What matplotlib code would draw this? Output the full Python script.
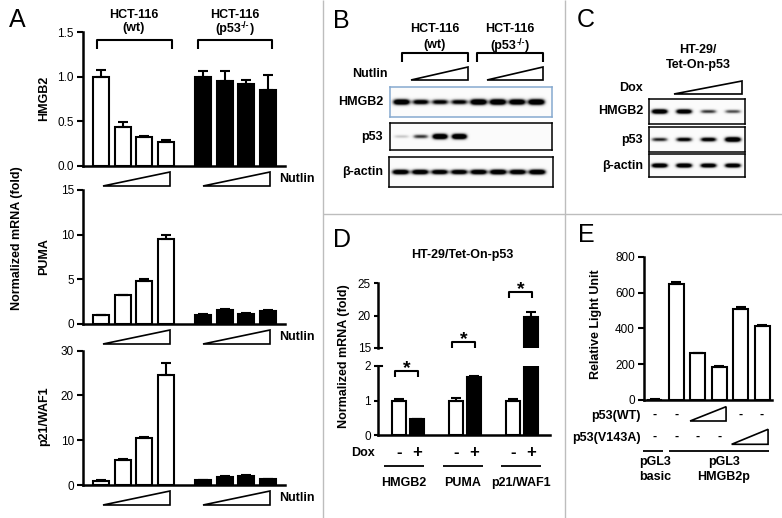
import numpy as np
import matplotlib
matplotlib.use("Agg")
import matplotlib.pyplot as plt
import matplotlib.transforms as mtransforms
from matplotlib.lines import Line2D
from matplotlib.patches import Polygon

plt.rcParams['font.family'] = ['Liberation Sans', 'DejaVu Sans']

# ---------------- data ----------------
# Panel A: qPCR, HCT-116 wt (white) vs p53-/- (black), increasing Nutlin
a_hmgb2_wt = [1.00, 0.44, 0.33, 0.27]
a_hmgb2_wt_err = [0.07, 0.05, 0.01, 0.025]
a_hmgb2_ko = [1.00, 0.95, 0.92, 0.85]
a_hmgb2_ko_err = [0.06, 0.11, 0.04, 0.17]
a_puma_wt = [1.0, 3.2, 4.85, 9.5]
a_puma_wt_err = [0.05, 0.1, 0.2, 0.5]
a_puma_ko = [1.05, 1.55, 1.15, 1.45]
a_puma_ko_err = [0.1, 0.15, 0.08, 0.15]
a_p21_wt = [1.0, 5.5, 10.5, 24.5]
a_p21_wt_err = [0.1, 0.35, 0.3, 2.7]
a_p21_ko = [1.1, 1.8, 2.0, 1.3]
a_p21_ko_err = [0.1, 0.12, 0.15, 0.1]

# Panel B: western blot band intensities (8 lanes)
b_hmgb2 = [1.0, 0.8, 0.75, 0.75, 1.05, 1.05, 1.0, 1.05]
b_p53 = [0.2, 0.55, 1.1, 1.1, 0.0, 0.0, 0.0, 0.0]
b_actin = [0.95, 0.95, 0.9, 0.9, 0.95, 1.0, 0.95, 1.0]

# Panel C: western blot band intensities (4 lanes)
c_hmgb2 = [1.0, 0.95, 0.55, 0.5]
c_p53 = [0.6, 0.75, 0.8, 1.05]
c_actin = [1.0, 1.0, 0.95, 0.95]

# Panel D: HT-29/Tet-On-p53 qPCR, -Dox (white) / +Dox (black)
d_genes = ['HMGB2', 'PUMA', 'p21/WAF1']
d_minus = [1.0, 1.0, 1.0]
d_minus_err = [0.05, 0.08, 0.06]
d_plus = [0.47, 1.68, 19.7]
d_plus_err = [0.0, 0.04, 0.9]

# Panel E: luciferase reporter
e_values = [2, 648, 261, 183, 508, 412]
e_err = [1, 13, 3, 6, 10, 5]
e_wt_row = ['-', '-', None, None, '-', '-']
e_mut_row = ['-', '-', '-', '-', None, None]

# ---------------- figure helpers ----------------
W, H = 782, 518
fig = plt.figure(figsize=(W / 100, H / 100), dpi=100)
PIX = mtransforms.Affine2D().scale(1 / W, -1 / H).translate(0, 1) + fig.transFigure
renderer = fig.canvas.get_renderer()


def ax_px(l, t, r, b):
    return fig.add_axes([l / W, 1 - b / H, (r - l) / W, (b - t) / H])


def txt(x, y, s, size=9, weight='bold', ha='center', va='center', **kw):
    return fig.text(x, y, s, transform=PIX, fontsize=size, fontweight=weight,
                    ha=ha, va=va, **kw)


def sup_txt(cx, y, base, sup, tail, size=9, supsize=6.5, rise=4):
    t1 = txt(0, y, base, size=size, ha='left', va='baseline')
    t2 = txt(0, y - rise, sup, size=supsize, ha='left', va='baseline')
    t3 = txt(0, y, tail, size=size, ha='left', va='baseline')
    ws = [t.get_window_extent(renderer).width for t in (t1, t2, t3)]
    x0 = cx - sum(ws) / 2
    t1.set_x(x0)
    t2.set_x(x0 + ws[0])
    t3.set_x(x0 + ws[0] + ws[1])


def line(xs, ys, lw=1.4, color='black', trans=None):
    fig.add_artist(Line2D(xs, ys, transform=trans or PIX, lw=lw, color=color,
                          solid_capstyle='butt'))


def tri(xl, xr, ytop, ybot, trans=None, lw=1.2):
    fig.add_artist(Polygon([(xl, ybot), (xr, ybot), (xr, ytop)], closed=True,
                           fill=False, lw=lw, edgecolor='black',
                           transform=trans or PIX, joinstyle='miter'))


def style(ax, bottom=True, ticklen=4.5):
    ax.spines['top'].set_visible(False)
    ax.spines['right'].set_visible(False)
    ax.spines['left'].set_linewidth(1.8)
    ax.spines['bottom'].set_linewidth(1.8)
    if not bottom:
        ax.spines['bottom'].set_visible(False)
    ax.set_xticks([])
    ax.tick_params(axis='y', direction='out', length=ticklen, width=1.5,
                   labelsize=8.5, pad=2)
    ax.patch.set_alpha(0)


def bars(ax, x, vals, errs, color, width):
    ax.bar(x, vals, width=width, color=color, edgecolor='black', lw=1.5, zorder=2)
    ax.errorbar(x, vals, yerr=[np.zeros(len(vals)), errs], fmt='none',
                ecolor='black', elinewidth=1.5, capsize=3.5, capthick=1.5, zorder=3)


def blot(rect, vals, centers, bw, bh, edge='black'):
    ax = ax_px(*rect)
    hh, ww = 90, 320
    yy = np.linspace(0, 1, hh)[:, None]
    xx = np.linspace(0, 1, ww)[None, :]
    img = np.full((hh, ww), 0.03)
    for c, v in zip(centers, vals):
        if v <= 0:
            continue
        px = np.exp(-((xx - c) / (bw / 2)) ** 4)
        h = bh * (0.55 + 0.45 * v)
        py = np.exp(-((yy - 0.5) / h) ** 2)
        img += 1.5 * v * px * py
    ax.imshow(np.clip(img, 0, 1), cmap='Greys', vmin=0, vmax=1,
              extent=[0, 1, 0, 1], aspect='auto', interpolation='bilinear',
              origin='lower')
    ax.set_xticks([])
    ax.set_yticks([])
    for s in ax.spines.values():
        s.set_color(edge)
        s.set_linewidth(1.1)
    return ax


# ---------------- dividers ----------------
line([323, 323], [0, 518], lw=1, color='#bdbdbd')
line([565, 565], [0, 518], lw=1, color='#bdbdbd')
line([323, 782], [214, 214], lw=1, color='#bdbdbd')

# panel letters
for lab, x, y in [('A', 9, 27), ('B', 333, 28), ('C', 577, 27), ('D', 333, 247), ('E', 578, 242)]:
    txt(x, y, lab, size=18, weight='normal', ha='left', va='baseline')

# ---------------- Panel A ----------------
posW = np.array([0, 1, 2, 3])
posB = np.array([4.7, 5.7, 6.7, 7.7])
rowsA = [
    (32, 166, 1.5, [0, 0.5, 1.0, 1.5], ['0.0', '0.5', '1.0', '1.5'],
     a_hmgb2_wt, a_hmgb2_wt_err, a_hmgb2_ko, a_hmgb2_ko_err, 'HMGB2', 98),
    (190, 324, 15, [0, 5, 10, 15], ['0', '5', '10', '15'],
     a_puma_wt, a_puma_wt_err, a_puma_ko, a_puma_ko_err, 'PUMA', 257),
    (350.7, 485, 30, [0, 10, 20, 30], ['0', '10', '20', '30'],
     a_p21_wt, a_p21_wt_err, a_p21_ko, a_p21_ko_err, 'p21/WAF1', 416),
]
for top, bot, ymax, ticks, tlabels, wv, we, kv, ke, name, ly in rowsA:
    ax = ax_px(83, top, 285, bot)
    ax.set_xlim(-0.83, 8.49)
    ax.set_ylim(0, ymax)
    style(ax)
    ax.set_yticks(ticks)
    ax.set_yticklabels(tlabels)
    bars(ax, posW, wv, we, 'white', 0.74)
    bars(ax, posB, kv, ke, 'black', 0.74)
    tri(103, 170, bot + 6, bot + 20)
    tri(203, 270, bot + 6, bot + 20)
    txt(279, bot + 13, 'Nutlin', ha='left')
    txt(44, ly, name, rotation=90)

txt(17, 238, 'Normalized mRNA (fold)', rotation=90)
txt(134, 15, 'HCT-116')
txt(134, 28, '(wt)')
txt(234.5, 15, 'HCT-116')
sup_txt(234.5, 32, '(p53', '-/-', ')')
line([97, 97, 172, 172], [49, 40, 40, 49], lw=1.5)
line([198, 198, 272, 272], [49, 40, 40, 49], lw=1.5)

# ---------------- Panel B ----------------
txt(435, 29, 'HCT-116')
txt(435, 45, '(wt)')
txt(510, 29, 'HCT-116')
sup_txt(510, 49, '(p53', '-/-', ')')
line([402, 402, 468, 468], [62, 53, 53, 62], lw=1.5)
line([477, 477, 543, 543], [62, 53, 53, 62], lw=1.5)
txt(388, 74, 'Nutlin', ha='right')
tri(411, 468, 67, 80)
tri(487, 543, 67, 80)
lanesB = np.linspace(0.07, 0.905, len(b_hmgb2))
blot((390, 87, 552, 117), b_hmgb2, lanesB, 0.105, 0.10, edge='#86a9cf')
blot((390, 123, 552, 150), b_p53, lanesB, 0.095, 0.10)
blot((389, 157, 553, 187), b_actin, lanesB, 0.105, 0.09)
txt(383, 102, 'HMGB2', ha='right')
txt(383, 137, 'p53', ha='right')
txt(383, 172, 'β-actin', ha='right')

# ---------------- Panel C ----------------
txt(698, 50, 'HT-29/')
txt(698, 65, 'Tet-On-p53')
txt(643, 88, 'Dox', ha='right')
tri(674, 742, 81, 94)
lanesC = np.linspace(0.11, 0.875, len(c_hmgb2))
blot((649, 99, 745, 124), c_hmgb2, lanesC, 0.17, 0.10)
blot((649, 127, 745, 152), c_p53, lanesC, 0.17, 0.10)
blot((649, 154, 745, 177), c_actin, lanesC, 0.17, 0.10)
txt(643, 111.5, 'HMGB2', ha='right')
txt(643, 139.5, 'p53', ha='right')
txt(643, 165.5, 'β-actin', ha='right')

# ---------------- Panel D ----------------
txt(462, 255, 'HT-29/Tet-On-p53')
g = np.arange(len(d_genes))
xm = g - 0.158
xp = g + 0.158
axU = ax_px(378, 283, 550, 348)
axL = ax_px(378, 366, 550, 435.3)
for ax, lo, hi, tk, bottom in [(axU, 15, 25, [15, 20, 25], False), (axL, 0, 2, [0, 1, 2], True)]:
    ax.set_xlim(-0.53, 2.49)
    ax.set_ylim(lo, hi)
    style(ax, bottom=bottom, ticklen=3)
    ax.set_yticks(tk)
    bars(ax, xm, d_minus, d_minus_err, 'white', 0.24)
    bars(ax, xp, d_plus, d_plus_err, 'black', 0.24)
axU.plot([0, 0.025], [15, 15], transform=axU.get_yaxis_transform(), color='k', lw=1.5, clip_on=False)
axL.plot([0, 0.025], [2, 2], transform=axL.get_yaxis_transform(), color='k', lw=1.5, clip_on=False)

txt(344, 356, 'Normalized mRNA (fold)', rotation=90)
# significance brackets
for x0, x1, ytop in [(395, 418, 371), (452, 475, 342), (509, 532, 292)]:
    line([x0, x0, x1, x1], [ytop + 6, ytop, ytop, ytop + 6], lw=1.5)
    txt((x0 + x1) / 2, ytop - 2, '*', size=14)

dT = mtransforms.blended_transform_factory(axL.transData, PIX)
txt(375, 453, 'Dox', ha='right')
for i in range(len(d_genes)):
    fig.text(xm[i], 452, '-', transform=dT, fontsize=12, fontweight='bold', ha='center', va='center')
    fig.text(xp[i], 453, '+', transform=dT, fontsize=12, fontweight='bold', ha='center', va='center')
for (x0, x1), cx, name in zip([(384, 424), (443, 483), (501, 541)], [404, 463, 521], d_genes):
    line([x0, x1], [466, 466], lw=1.3)
    txt(cx, 483, name)

# ---------------- Panel E ----------------
axE = ax_px(644, 256.7, 771.7, 400)
pos = np.arange(len(e_values))
axE.set_xlim(-0.51, 5.45)
axE.set_ylim(0, 800)
style(axE)
axE.set_yticks([0, 200, 400, 600, 800])
bars(axE, pos, e_values, e_err, 'white', 0.7)
txt(596, 324, 'Relative Light Unit', rotation=90)

eT = mtransforms.blended_transform_factory(axE.transData, PIX)
txt(641, 416, 'p53(WT)', ha='right')
txt(641, 438, 'p53(V143A)', ha='right')
for i, m in enumerate(e_wt_row):
    if m:
        fig.text(pos[i], 415, m, transform=eT, fontsize=9, fontweight='bold', ha='center', va='center')
for i, m in enumerate(e_mut_row):
    if m:
        fig.text(pos[i], 437, m, transform=eT, fontsize=9, fontweight='bold', ha='center', va='center')
tri(1.64, 3.32, 406.7, 421, trans=eT)
tri(3.58, 5.28, 429.3, 444.3, trans=eT)
line([-0.57, 0.37], [451, 451], lw=1.3, trans=eT)
line([0.65, 5.33], [451, 451], lw=1.3, trans=eT)
fig.text(0, 462, 'pGL3', transform=eT, fontsize=9, fontweight='bold', ha='center', va='center')
fig.text(0, 477, 'basic', transform=eT, fontsize=9, fontweight='bold', ha='center', va='center')
fig.text(3.22, 462, 'pGL3', transform=eT, fontsize=9, fontweight='bold', ha='center', va='center')
fig.text(3.22, 477, 'HMGB2p', transform=eT, fontsize=9, fontweight='bold', ha='center', va='center')

fig.savefig('out.png', dpi=100)
